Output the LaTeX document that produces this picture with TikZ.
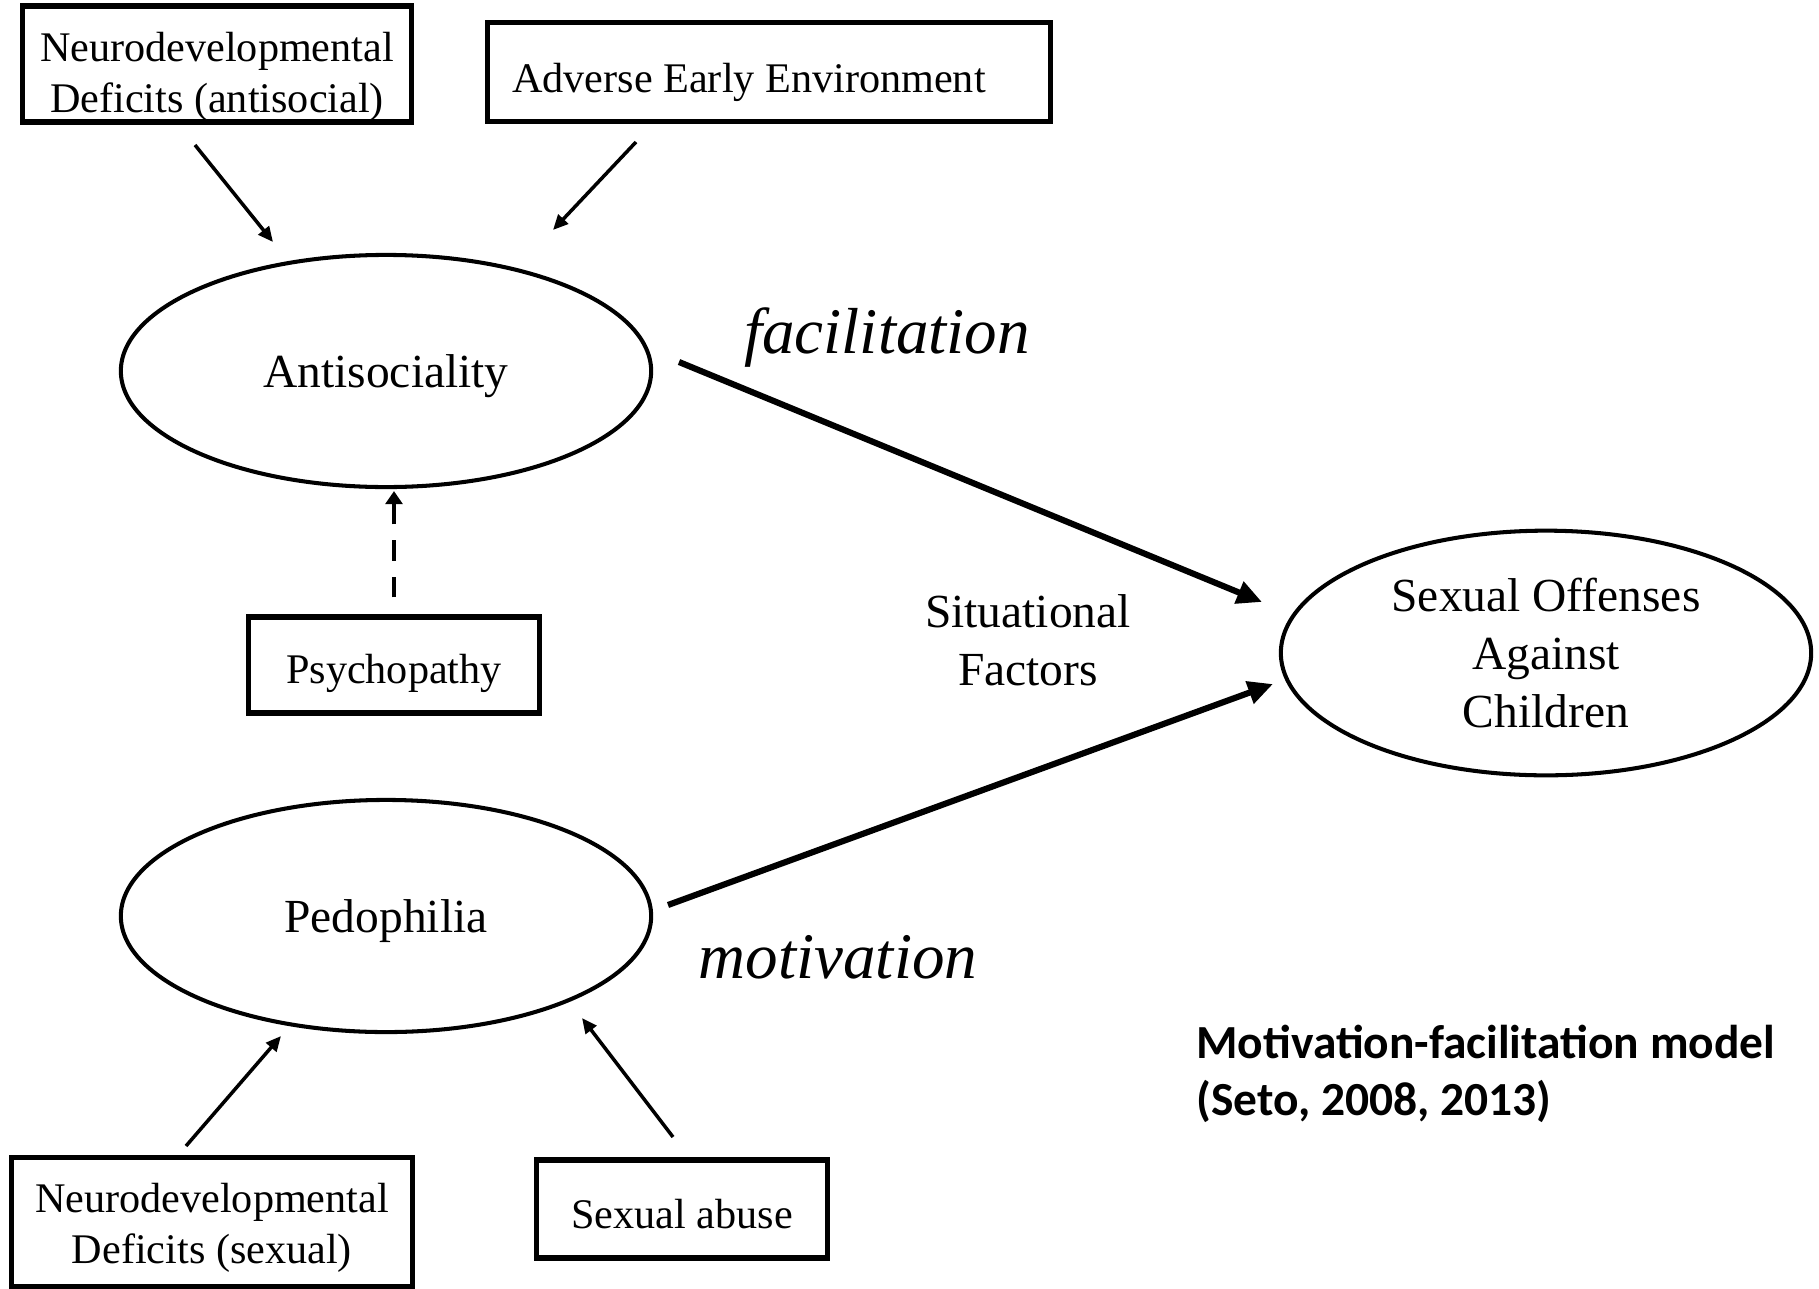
\documentclass[tikz,border=0pt]{standalone}
\usepackage{fontspec}
\setmainfont{Liberation Serif}
\newfontfamily\calfont{Carlito}
\usetikzlibrary{shapes.geometric,arrows.meta}

% text sits a little below the middle of its frame
\newcommand{\lowered}[2]{\raisebox{-#1}[\height][\depth]{%
  \begin{tabular}{@{}c@{}}#2\end{tabular}}}

\tikzset{
  box/.style={draw=black, line width=1.45pt, inner sep=0pt,
    font=\fontsize{12}{14.6}\selectfont},
  oval/.style={draw=black, ellipse, line width=1.15pt, inner sep=0pt,
    minimum width=5.3cm, minimum height=2.32cm, font=\fontsize{13.5}{16.4}\selectfont},
  thin arrow/.style={line width=1pt, -{Triangle[length=4.3pt, width=3.8pt]}},
  big arrow/.style={line width=1.75pt, -{Triangle[length=7.1pt, width=6.4pt]}},
  path label/.style={font=\fontsize{18.5}{22}\selectfont\itshape}
}

\begin{document}
\begin{tikzpicture}[x=0.01cm, y=-0.01cm]
      \useasboundingbox (0, 0) rectangle (1819, 1288);

      % causes of antisociality
      \draw (217, 64) node [box, minimum width=3.89cm, minimum height=1.16cm] (nda)
      {\lowered{0.13cm}{Neurodevelopmental\\Deficits (antisocial)}};
      \draw (769, 72) node [box, minimum width=5.62cm, minimum height=0.99cm] (aee)
      {\lowered{0.1cm}{Adverse Early Environment\kern0.4cm}};
      \draw (386, 371) node [oval] (anti) {\lowered{0.05cm}{Antisociality}};
      \draw (394, 665) node [box, minimum width=2.9cm, minimum height=0.96cm] (psy)
      {\lowered{0.08cm}{Psychopathy}};

      \coordinate (nda_out) at (195, 145);
      \coordinate (anti_in1) at (273, 242);
      \coordinate (aee_out) at (636, 142);
      \coordinate (anti_in2) at (553, 230);
      \draw [thin arrow] (nda_out) -- (anti_in1);
      \draw [thin arrow] (aee_out) -- (anti_in2);
      \draw [line width=1.15pt, dash pattern=on 5.9pt off 4.5pt,
        -{Triangle[length=3.7pt, width=4.8pt]},
        shorten <=0.17cm, shorten >=0.02cm]
        (psy.north) -- (psy.north |- anti.south);

      % outcome
      \draw (1546, 653) node [oval, minimum height=2.19cm] (offense)
      {\lowered{0.05cm}{Sexual Offenses\\Against\\Children}};
      \coordinate (anti_out) at (679, 362);
      \coordinate (offense_in1) at (1262, 602);
      \coordinate (ped_out) at (668, 905);
      \coordinate (offense_in2) at (1273, 684);
      \draw [big arrow] (anti_out) -- (offense_in1);
      \draw [big arrow] (ped_out) -- (offense_in2);
      \draw (887, 338) node [path label] (fac) {facilitation};
      \draw (838, 957) node [path label] (mot) {motivation};
      \draw (1028, 640) node [align=center, font=\fontsize{13.5}{16.5}\selectfont] (sit)
      {Situational\\Factors};

      % causes of pedophilia
      \draw (386, 916) node [oval] (ped) {\lowered{0.05cm}{Pedophilia}};
      \draw (212, 1222) node [box, minimum width=4.0cm, minimum height=1.29cm] (nds)
      {\lowered{0.06cm}{Neurodevelopmental\\Deficits (sexual)}};
      \draw (682, 1209) node [box, minimum width=2.9cm, minimum height=0.98cm] (abuse)
      {\lowered{0.09cm}{Sexual abuse}};
      \coordinate (nds_out) at (186, 1146);
      \coordinate (ped_in1) at (281, 1036);
      \coordinate (abuse_out) at (673, 1137);
      \coordinate (ped_in2) at (582, 1018);
      \draw [thin arrow] (nds_out) -- (ped_in1);
      \draw [thin arrow] (abuse_out) -- (ped_in2);

      % model name
      \draw (1184, 1074) node [anchor=west, align=left,
        font=\calfont\bfseries\fontsize{13.5}{16.2}\selectfont] (title)
      {Motivation-facilitation model\\(Seto, 2008, 2013)};
\end{tikzpicture}
\end{document}
